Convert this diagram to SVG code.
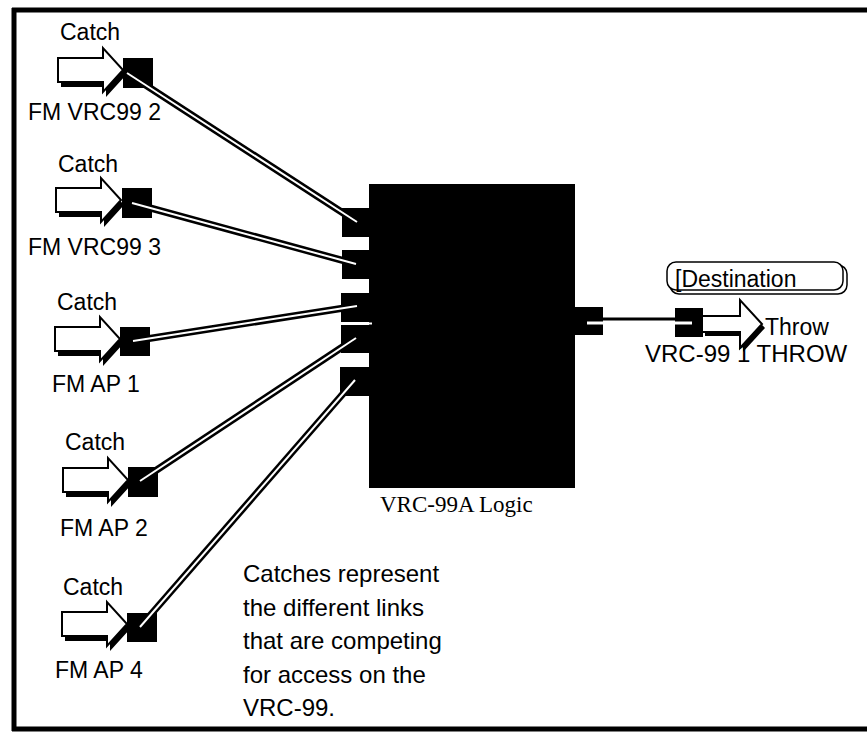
<svg xmlns="http://www.w3.org/2000/svg" width="867" height="738" viewBox="0 0 867 738">
<style>
.sans{font-family:"Liberation Sans",Arial,sans-serif;font-size:23px;fill:#000}
.note{font-family:"Liberation Sans",Arial,sans-serif;font-size:24px;fill:#000}
.serif{font-family:"Liberation Serif","Times New Roman",serif;font-size:23px;fill:#000}
.blk{fill:#000}
.arrow{fill:#fff;stroke:#000;stroke-width:2}
.shadow{fill:#000}
.wire{stroke:#000;stroke-width:7;fill:none}
.core{stroke:#fff;stroke-width:2;fill:none}
.frame{stroke:#000;fill:none}
</style>
<defs>
<path id="catchArrow" d="M0,-12 H45 V-22 L65,0 L45,22 V12 H0 Z"/>
<path id="throwArrow" d="M0,-8 H38 V-24 L60,0 L38,24 V8 H0 Z"/>
</defs>
<rect width="867" height="738" fill="#fff"/>
<g id="frame">
<line class="frame" x1="12" y1="10" x2="867" y2="10" stroke-width="5"/>
<line class="frame" x1="14" y1="8" x2="14" y2="731" stroke-width="5"/>
<line class="frame" x1="12" y1="729" x2="867" y2="729" stroke-width="5"/>
</g>
<g id="catch1">
<text class="sans" x="60" y="40">Catch</text>
<use href="#catchArrow" class="shadow" transform="translate(61,75)"/>
<use href="#catchArrow" class="arrow" transform="translate(58,70)"/>
<rect class="blk" x="123" y="58" width="30" height="30"/>
<text class="sans" x="28" y="120">FM VRC99 2</text>
</g>
<g id="catch2">
<text class="sans" x="58" y="172">Catch</text>
<use href="#catchArrow" class="shadow" transform="translate(59,205)"/>
<use href="#catchArrow" class="arrow" transform="translate(56,200)"/>
<rect class="blk" x="122" y="188" width="30" height="30"/>
<text class="sans" x="28" y="255">FM VRC99 3</text>
</g>
<g id="catch3">
<text class="sans" x="57" y="310">Catch</text>
<use href="#catchArrow" class="shadow" transform="translate(58,344)"/>
<use href="#catchArrow" class="arrow" transform="translate(55,339)"/>
<rect class="blk" x="120" y="327" width="30" height="29"/>
<text class="sans" x="52" y="392">FM AP 1</text>
</g>
<g id="catch4">
<text class="sans" x="65" y="450">Catch</text>
<use href="#catchArrow" class="shadow" transform="translate(66,485)"/>
<use href="#catchArrow" class="arrow" transform="translate(63,480)"/>
<rect class="blk" x="128" y="467" width="30" height="30"/>
<text class="sans" x="60" y="536">FM AP 2</text>
</g>
<g id="catch5">
<text class="sans" x="63" y="595">Catch</text>
<use href="#catchArrow" class="shadow" transform="translate(65,629)"/>
<use href="#catchArrow" class="arrow" transform="translate(62,624)"/>
<rect class="blk" x="127" y="613" width="30" height="29"/>
<text class="sans" x="55" y="678">FM AP 4</text>
</g>
<g id="logic">
<rect class="blk" x="369" y="184" width="206" height="304"/>
<rect class="blk" x="342" y="208" width="30" height="29"/>
<rect class="blk" x="342" y="250" width="30" height="29"/>
<rect class="blk" x="341" y="293" width="31" height="29"/>
<rect class="blk" x="341" y="325" width="31" height="28"/>
<rect class="blk" x="340" y="367" width="32" height="29"/>
<rect class="blk" x="573" y="307" width="30" height="28"/>
<text class="serif" x="380" y="512">VRC-99A Logic</text>
</g>
<g id="throw">
<rect x="670" y="265" width="177" height="29" rx="9" fill="#fff" stroke="#000" stroke-width="1.5"/>
<rect x="667" y="262" width="176" height="28" rx="9" fill="#fff" stroke="#000" stroke-width="1.5"/>
<text class="sans" x="675" y="287">[Destination</text>
<use href="#throwArrow" class="shadow" transform="translate(705,328)"/>
<use href="#throwArrow" class="arrow" transform="translate(702,324)"/>
<rect class="blk" x="675" y="308" width="28" height="29"/>
<text class="sans" x="765" y="335">Throw</text>
<text class="note" x="645" y="362">VRC-99 1 THROW</text>
</g>
<g id="connectors">
<line class="wire" x1="127" y1="73" x2="357" y2="222"/>
<line class="wire" x1="132" y1="203" x2="356" y2="264"/>
<line class="wire" x1="133" y1="341" x2="357" y2="306"/>
<line class="wire" x1="140" y1="481" x2="356" y2="338"/>
<line class="wire" x1="140" y1="627" x2="355" y2="380"/>
<line class="core" x1="127" y1="73" x2="357" y2="222"/>
<line class="core" x1="132" y1="203" x2="356" y2="264"/>
<line class="core" x1="133" y1="341" x2="357" y2="306"/>
<line class="core" x1="140" y1="481" x2="356" y2="338"/>
<line class="core" x1="140" y1="627" x2="355" y2="380"/>
<line class="core" x1="348" y1="323.5" x2="372" y2="323.5" stroke-width="2"/>
<line x1="587" y1="319" x2="692" y2="319" stroke="#000" stroke-width="3"/>
<line x1="587" y1="323" x2="692" y2="323" stroke="#fff" stroke-width="3"/>
</g>
<g id="note">
<text class="note" x="243" y="582">Catches represent</text>
<text class="note" x="243" y="616">the different links</text>
<text class="note" x="243" y="649">that are competing</text>
<text class="note" x="243" y="683">for access on the</text>
<text class="note" x="243" y="716">VRC-99.</text>
</g>
</svg>
